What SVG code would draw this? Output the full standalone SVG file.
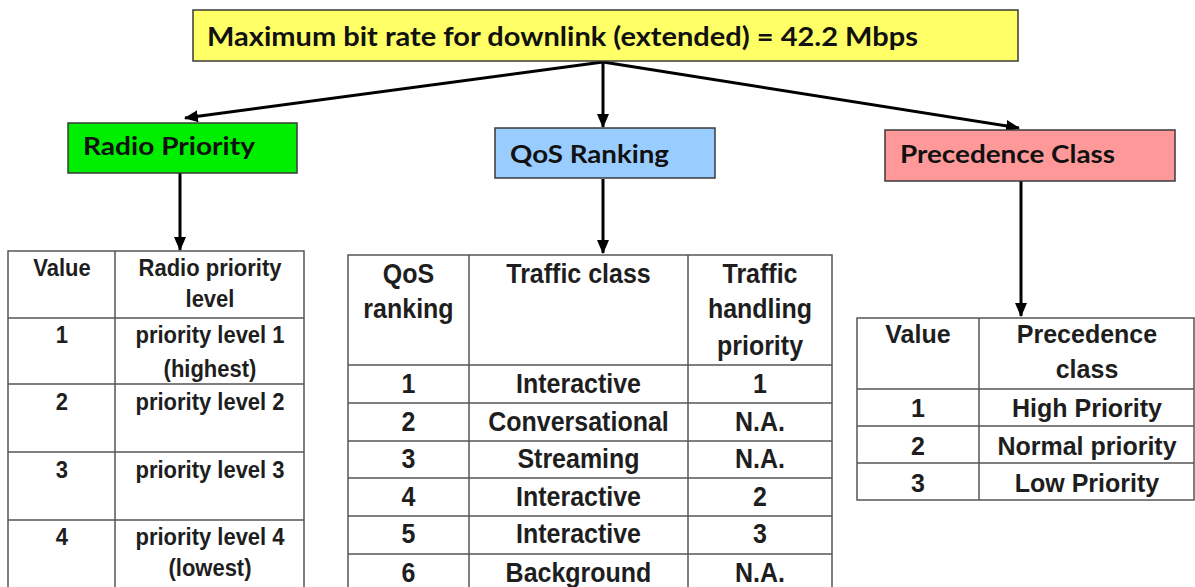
<svg xmlns="http://www.w3.org/2000/svg" width="1195" height="587" viewBox="0 0 1195 587">
<style>
.box{stroke:#3a3a3a;stroke-width:1.5}
.bt{font-family:Lato,"Liberation Sans",sans-serif;font-weight:bold;fill:#111}
.tl{stroke:#555;stroke-width:1.5;fill:none}
.tx{font-family:"Liberation Sans",Arial,sans-serif;font-weight:bold;fill:#1e1e1e;text-anchor:middle}
.s22{font-size:22px}
.s25{font-size:25px}
.conn{stroke:#000;stroke-width:3;fill:none;marker-end:url(#ah)}
</style>
<defs>
<marker id="ah" markerUnits="userSpaceOnUse" markerWidth="14" markerHeight="12" viewBox="0 0 14 12" refX="13" refY="6" orient="auto">
<path d="M0,0 L14,6 L0,12 Z" fill="#000"/>
</marker>
</defs>
<rect width="1195" height="587" fill="#fff"/>

<g id="connectors">
<line class="conn" x1="603" y1="62" x2="185" y2="118"/>
<line class="conn" x1="603" y1="62" x2="603" y2="127"/>
<line class="conn" x1="603" y1="62" x2="1019" y2="128"/>
<line class="conn" x1="180" y1="173" x2="180" y2="250"/>
<line class="conn" x1="603" y1="179" x2="603" y2="253"/>
<line class="conn" x1="1021" y1="181" x2="1021" y2="316"/>
</g>

<g id="top">
<rect class="box" x="193" y="10" width="825" height="51" fill="#FFFF66"/>
<text class="bt" x="207" y="46" font-size="27" textLength="711" lengthAdjust="spacingAndGlyphs">Maximum bit rate for downlink (extended)  = 42.2 Mbps</text>
</g>

<g id="radio">
<rect class="box" x="68" y="123" width="229" height="50" fill="#00EE00"/>
<text class="bt" x="83" y="155" font-size="24" textLength="172" lengthAdjust="spacingAndGlyphs">Radio Priority</text>
</g>

<g id="qos">
<rect class="box" x="495" y="128" width="220" height="50" fill="#99CCFF"/>
<text class="bt" x="510" y="163" font-size="24" textLength="159" lengthAdjust="spacingAndGlyphs">QoS Ranking</text>
</g>

<g id="precedence">
<rect class="box" x="885" y="130" width="290" height="51" fill="#FF9999"/>
<text class="bt" x="900" y="163" font-size="24" textLength="215" lengthAdjust="spacingAndGlyphs">Precedence Class</text>
</g>

<g id="radio-table">
<path class="tl" d="M8,590 V251 H304 V590 M115,251 V590 M8,318 H304 M8,384 H304 M8,452 H304 M8,520 H304"/>
<g class="tx s22">
<g transform="matrix(1,0,0,1.1,0,-27.6)"><text x="62" y="276">Value</text><text x="210" y="276">Radio priority</text></g>
<text x="210" y="307" transform="matrix(1,0,0,1.1,0,-30.7)">level</text>
<g transform="matrix(1,0,0,1.1,0,-34.3)"><text x="62" y="343">1</text><text x="210" y="343">priority level 1</text></g>
<text x="210" y="377" transform="matrix(1,0,0,1.1,0,-37.7)">(highest)</text>
<g transform="matrix(1,0,0,1.1,0,-41)"><text x="62" y="410">2</text><text x="210" y="410">priority level 2</text></g>
<g transform="matrix(1,0,0,1.1,0,-47.8)"><text x="62" y="478">3</text><text x="210" y="478">priority level 3</text></g>
<g transform="matrix(1,0,0,1.1,0,-54.5)"><text x="62" y="545">4</text><text x="210" y="545">priority level 4</text></g>
<text x="210" y="576" transform="matrix(1,0,0,1.1,0,-57.6)">(lowest)</text>
</g>
</g>

<g id="qos-table">
<path class="tl" d="M348,590 V255 H832 V590 M469,255 V590 M688,255 V590 M348,365 H832 M348,403 H832 M348,441 H832 M348,478 H832 M348,516 H832 M348,554 H832"/>
<g class="tx s25">
<text x="408.5" y="283" transform="matrix(1,0,0,1.1,0,-28.3)">QoS</text>
<text x="408.5" y="318" transform="matrix(1,0,0,1.1,0,-31.8)">ranking</text>
<text x="578.5" y="283" transform="matrix(1,0,0,1.1,0,-28.3)">Traffic class</text>
<text x="760" y="283" transform="matrix(1,0,0,1.1,0,-28.3)">Traffic</text>
<text x="760" y="318" transform="matrix(1,0,0,1.1,0,-31.8)">handling</text>
<text x="760" y="355" transform="matrix(1,0,0,1.1,0,-35.5)">priority</text>
<g transform="matrix(1,0,0,1.1,0,-39.3)"><text x="408.5" y="393">1</text><text x="578.5" y="393">Interactive</text><text x="760" y="393">1</text></g>
<g transform="matrix(1,0,0,1.1,0,-43.1)"><text x="408.5" y="431">2</text><text x="578.5" y="431">Conversational</text><text x="760" y="431">N.A.</text></g>
<g transform="matrix(1,0,0,1.1,0,-46.8)"><text x="408.5" y="468">3</text><text x="578.5" y="468">Streaming</text><text x="760" y="468">N.A.</text></g>
<g transform="matrix(1,0,0,1.1,0,-50.6)"><text x="408.5" y="506">4</text><text x="578.5" y="506">Interactive</text><text x="760" y="506">2</text></g>
<g transform="matrix(1,0,0,1.1,0,-54.3)"><text x="408.5" y="543">5</text><text x="578.5" y="543">Interactive</text><text x="760" y="543">3</text></g>
<g transform="matrix(1,0,0,1.1,0,-58.2)"><text x="408.5" y="582">6</text><text x="578.5" y="582">Background</text><text x="760" y="582">N.A.</text></g>
</g>
</g>

<g id="precedence-table">
<path class="tl" d="M857,318 H1194 V500 H857 Z M979,318 V500 M857,389 H1194 M857,426 H1194 M857,463 H1194"/>
<g class="tx s25">
<text x="918" y="343">Value</text>
<text x="1087" y="343">Precedence</text>
<text x="1087" y="378">class</text>
<text x="918" y="417">1</text><text x="1087" y="417">High Priority</text>
<text x="918" y="455">2</text><text x="1087" y="455">Normal priority</text>
<text x="918" y="492">3</text><text x="1087" y="492">Low Priority</text>
</g>
</g>
</svg>
